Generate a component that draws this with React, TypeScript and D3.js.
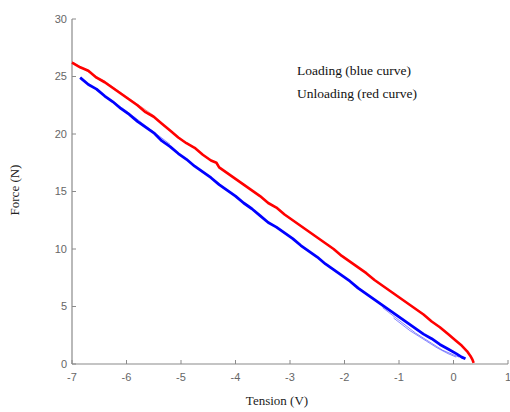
import React from "react";
import * as d3 from "d3";

const xTicks = [-7, -6, -5, -4, -3, -2, -1, 0, 1];
const yTicks = [0, 5, 10, 15, 20, 25, 30];

const legendLines = ["Loading (blue curve)", "Unloading (red curve)"];
const xLabel = "Tension (V)";
const yLabel = "Force (N)";

// Unloading (red)
const redX = [-7.0, -6.85, -6.7, -6.55, -6.4, -6.25, -6.1, -5.95, -5.8, -5.65, -5.5, -5.35, -5.2, -5.05, -4.9, -4.75, -4.6, -4.45, -4.35, -4.3, -4.15, -4.0, -3.85, -3.7, -3.55, -3.4, -3.25, -3.1, -2.95, -2.8, -2.65, -2.5, -2.35, -2.2, -2.05, -1.9, -1.75, -1.6, -1.45, -1.3, -1.15, -1.0, -0.85, -0.7, -0.55, -0.4, -0.25, -0.1, 0.05, 0.15, 0.25, 0.31, 0.35, 0.37];
const redY = [26.2, 25.8, 25.5, 24.9, 24.5, 24.0, 23.5, 23.0, 22.5, 21.9, 21.5, 20.9, 20.3, 19.7, 19.2, 18.8, 18.2, 17.7, 17.5, 17.1, 16.6, 16.1, 15.6, 15.1, 14.6, 14.0, 13.6, 13.0, 12.5, 12.0, 11.5, 11.0, 10.5, 10.0, 9.4, 8.9, 8.4, 7.9, 7.3, 6.8, 6.3, 5.8, 5.3, 4.8, 4.3, 3.7, 3.2, 2.6, 2.0, 1.6, 1.1, 0.7, 0.35, 0.1];

// Loading (blue)
const blueX = [-6.85, -6.7, -6.55, -6.4, -6.25, -6.1, -5.95, -5.8, -5.65, -5.5, -5.35, -5.2, -5.05, -4.9, -4.75, -4.6, -4.45, -4.3, -4.15, -4.0, -3.85, -3.7, -3.55, -3.4, -3.25, -3.1, -2.95, -2.8, -2.65, -2.5, -2.35, -2.2, -2.05, -1.9, -1.75, -1.6, -1.45, -1.3, -1.15, -1.0, -0.85, -0.7, -0.55, -0.4, -0.25, -0.1, 0.05, 0.15, 0.22];
const blueY = [24.9, 24.3, 23.9, 23.3, 22.8, 22.2, 21.7, 21.1, 20.6, 20.1, 19.4, 18.9, 18.3, 17.8, 17.2, 16.7, 16.2, 15.6, 15.1, 14.6, 14.0, 13.5, 12.9, 12.3, 11.9, 11.4, 10.9, 10.3, 9.8, 9.3, 8.7, 8.2, 7.7, 7.2, 6.6, 6.1, 5.6, 5.1, 4.6, 4.1, 3.6, 3.1, 2.6, 2.2, 1.7, 1.3, 0.9, 0.6, 0.45];

// faint extra loading runs near the end
const blueRun2X = [-1.3, -1.0, -0.7, -0.4, -0.2, 0.0, 0.1];
const blueRun2Y = [4.9, 3.8, 2.7, 1.8, 1.2, 0.8, 0.6];
const blueRun3X = [-1.1, -0.8, -0.5, -0.3, -0.1, 0.05];
const blueRun3Y = [4.0, 2.9, 2.0, 1.4, 0.9, 0.6];
// faint extra traces near the start
const blueRun4X = [-6.85, -6.6, -6.3, -6.0, -5.7, -5.45, -5.2];
const blueRun4Y = [24.9, 24.0, 23.0, 22.0, 20.9, 20.0, 19.1];
const redRun2X = [-7.0, -6.7, -6.4, -6.1, -5.8, -5.5];
const redRun2Y = [26.3, 25.4, 24.6, 23.6, 22.6, 21.6];

const W = 510;
const H = 412;
const m = { left: 72, right: 508, top: 19, bottom: 364 };

export default function App() {
  const x = d3.scaleLinear().domain([-7, 1]).range([m.left, m.right]);
  const y = d3.scaleLinear().domain([0, 30]).range([m.bottom, m.top]);
  const line = d3
    .line<[number, number]>()
    .x((d) => x(d[0]))
    .y((d) => y(d[1]));
  const zip = (a: number[], b: number[]) => a.map((v, i) => [v, b[i]] as [number, number]);
  const axisColor = "#8a8a8a";
  const tickFont = "'Liberation Sans', Arial, sans-serif";
  const serif = "'Liberation Serif', 'Times New Roman', serif";

  return (
    <svg
      width={W}
      height={H}
      style={{ position: "absolute", left: 0, top: 0, background: "#fff" }}
    >
      {/* axes */}
      <line x1={m.left} x2={m.left} y1={m.top} y2={m.bottom} stroke={axisColor} strokeWidth={1.2} />
      <line x1={m.left} x2={m.right} y1={m.bottom} y2={m.bottom} stroke={axisColor} strokeWidth={1.2} />
      {yTicks.map((t) => (
        <g key={"y" + t}>
          <line x1={m.left} x2={m.left + 4} y1={y(t)} y2={y(t)} stroke={axisColor} />
          <text
            x={m.left - 5}
            y={y(t)}
            dy="0.35em"
            textAnchor="end"
            style={{ fontFamily: tickFont, fontSize: 11 }}
            fill="#666"
          >
            {t}
          </text>
        </g>
      ))}
      {xTicks.map((t) => (
        <g key={"x" + t}>
          <line x1={x(t)} x2={x(t)} y1={m.bottom} y2={m.bottom - 4} stroke={axisColor} />
          <text
            x={x(t)}
            y={m.bottom + 17}
            textAnchor="middle"
            style={{ fontFamily: tickFont, fontSize: 11 }}
            fill="#666"
          >
            {t}
          </text>
        </g>
      ))}
      <text x={277} y={405} textAnchor="middle" style={{ fontFamily: serif, fontSize: 13 }} fill="#222">
        {xLabel}
      </text>
      <text
        transform={`translate(19,190) rotate(-90)`}
        textAnchor="middle"
        style={{ fontFamily: serif, fontSize: 13 }}
        fill="#222"
      >
        {yLabel}
      </text>

      {/* faint traces */}
      <path d={line(zip(redRun2X, redRun2Y)) || ""} fill="none" stroke="#ff5050" strokeWidth={1} opacity={0.7} />
      <path d={line(zip(blueRun4X, blueRun4Y)) || ""} fill="none" stroke="#5050ff" strokeWidth={1} opacity={0.7} />
      <path d={line(zip(blueRun2X, blueRun2Y)) || ""} fill="none" stroke="#4040ff" strokeWidth={0.9} opacity={0.7} />
      <path d={line(zip(blueRun3X, blueRun3Y)) || ""} fill="none" stroke="#4040ff" strokeWidth={0.9} opacity={0.7} />

      {/* main curves */}
      <path d={line(zip(redX, redY)) || ""} fill="none" stroke="#ff0000" strokeWidth={2.6} strokeLinejoin="round" />
      <path d={line(zip(blueX, blueY)) || ""} fill="none" stroke="#0000ff" strokeWidth={2.8} strokeLinejoin="round" />

      {/* legend text */}
      {legendLines.map((s, i) => (
        <text key={s} x={297} y={75 + i * 23} style={{ fontFamily: serif, fontSize: 13.5 }} fill="#111">
          {s}
        </text>
      ))}
    </svg>
  );
}
